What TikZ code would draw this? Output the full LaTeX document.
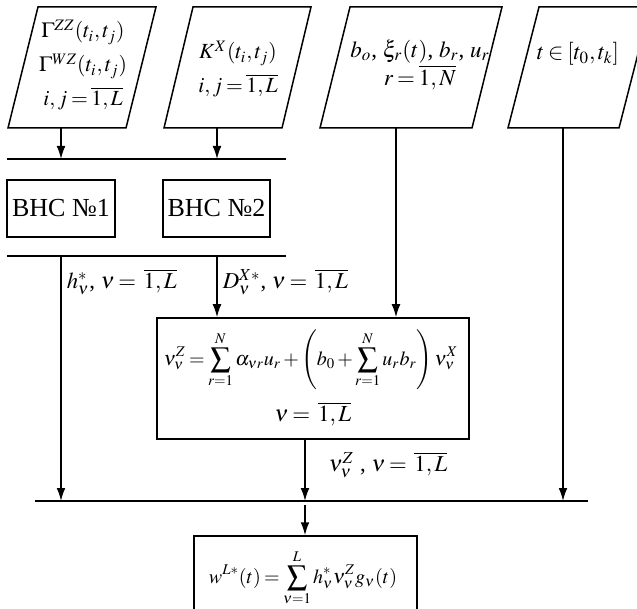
\documentclass[tikz,border=0pt]{standalone}
\usepackage{mathptmx}
\usepackage[no-math]{fontspec}
\setmainfont{Liberation Serif}
\usetikzlibrary{arrows.meta}
\newcommand{\tightmath}{\thickmuskip=3mu plus 1mu\medmuskip=2mu plus 1mu\thinmuskip=2mu}
\begin{document}
\begin{tikzpicture}[x=0.5pt,y=-0.5pt,
  line width=0.75pt,
  arr/.style={-{Latex[length=6.5pt,width=4.4pt]}},
  txt/.style={font=\fontsize{10.8}{17}\selectfont\tightmath, align=center, inner sep=0pt},
  frm/.style={font=\fontsize{10}{12}\selectfont\tightmath, align=center, inner sep=0pt},
  lbl/.style={font=\fontsize{11.4}{14}\selectfont\tightmath, anchor=west, inner sep=0pt},
  box/.style={draw, line width=0.75pt, inner sep=0pt, font=\fontsize{13}{15}\selectfont}]
\useasboundingbox (0,0) rectangle (637,609);
\clip (0,0) rectangle (637,609);
% input parallelograms
\draw (38,7) -- (156,7) -- (126,128) -- (8,128) -- cycle;
\draw (193,7) -- (311,7) -- (282,128) -- (164,128) -- cycle;
\draw (350,7) -- (502,7) -- (472,128) -- (320,128) -- cycle;
\draw (539,7) -- (650,7) -- (619,128) -- (508,128) -- cycle;
\node[txt] (p1) at (83,65) {$\Gamma^{ZZ}(t_i,t_j)$\\$\Gamma^{WZ}(t_i,t_j)$\\$i, j=\overline{1,L}$};
\node[txt] (p2) at (238,69) {$K^{X}(t_i,t_j)$\\$i, j=\overline{1,L}$};
\node[txt, font=\fontsize{11.5}{14}\selectfont\tightmath] (p3) at (420,65) {$b_o$, $\xi_r(t)$, $b_r$, $u_r$\\$r=\overline{1,N}$};
\node[txt, font=\fontsize{11.5}{14}\selectfont\tightmath] (p4) at (578,54) {$t\in[t_0,t_k]$};
% bus lines
\coordinate (l1L) at (7,159); \coordinate (l1R) at (286,159);
\coordinate (l2L) at (7,256); \coordinate (l2R) at (286,256);
\coordinate (l3L) at (35,501); \coordinate (l3R) at (588,501);
\draw (l1L) -- (l1R);
\draw (l2L) -- (l2R);
\draw (l3L) -- (l3R);
% boxes
\node[box, minimum width=54pt, minimum height=28.5pt] (b1) at (61,208.5) {ВНС №1};
\node[box, minimum width=53.5pt, minimum height=28.5pt] (b2) at (216.5,208.5) {ВНС №2};
\node[box, minimum width=156pt, minimum height=60.5pt] (mb) at (313,378.5) {};
\node[frm] (mf1) at (311,360) {$\displaystyle\nu^{Z}_{\nu}=\sum_{r=1}^{N}\alpha_{\nu r}u_r+\left(b_0+\sum_{r=1}^{N}u_r b_r\right)\nu^{X}_{\nu}$};
\node[txt, font=\fontsize{11.5}{14}\selectfont\tightmath] (mf2) at (313,414) {$\nu=\;\overline{1,L}$};
\node[box, minimum width=111.5pt, minimum height=52pt] (fb) at (305.5,588) {};
\node[frm] (ff) at (303,578) {$\displaystyle w^{L*}(t)=\sum_{\nu=1}^{L}h^{*}_{\nu}\nu^{Z}_{\nu}g_{\nu}(t)$};
% connector points
\coordinate (p1b) at (61,128); \coordinate (p1l) at (61,159);
\coordinate (p2b) at (217,128); \coordinate (p2l) at (217,159);
\coordinate (p3b) at (396,128);
\coordinate (p4b) at (563,128); \coordinate (p4l) at (563,501);
\coordinate (h0) at (61,256); \coordinate (h1) at (61,501);
\coordinate (d0) at (217,256);
\coordinate (m3) at (305,501); \coordinate (m3b) at (305,505);
% connectors
\draw[arr] (p1b) -- (p1l);
\draw[arr] (p2b) -- (p2l);
\draw[arr] (h0) -- (h1);
\draw[arr] (d0) -- (d0 |- mb.north);
\draw[arr] (p3b) -- (p3b |- mb.north);
\draw[arr] (p4b) -- (p4l);
\draw[arr] (mb.south -| m3) -- (m3);
\draw[arr] (m3b) -- (m3b |- fb.north);
% labels
\node[lbl] (hl) at (66,282) {$h^{*}_{\nu}$, $\nu=\;\overline{1,L}$};
\node[lbl] (dl) at (222,282) {$D^{X*}_{\nu}$, $\nu=\;\overline{1,L}$};
\node[lbl] (nl) at (328,465) {$\nu^{Z}_{\nu}$\;, $\nu=\;\overline{1,L}$};
\end{tikzpicture}
\end{document}
